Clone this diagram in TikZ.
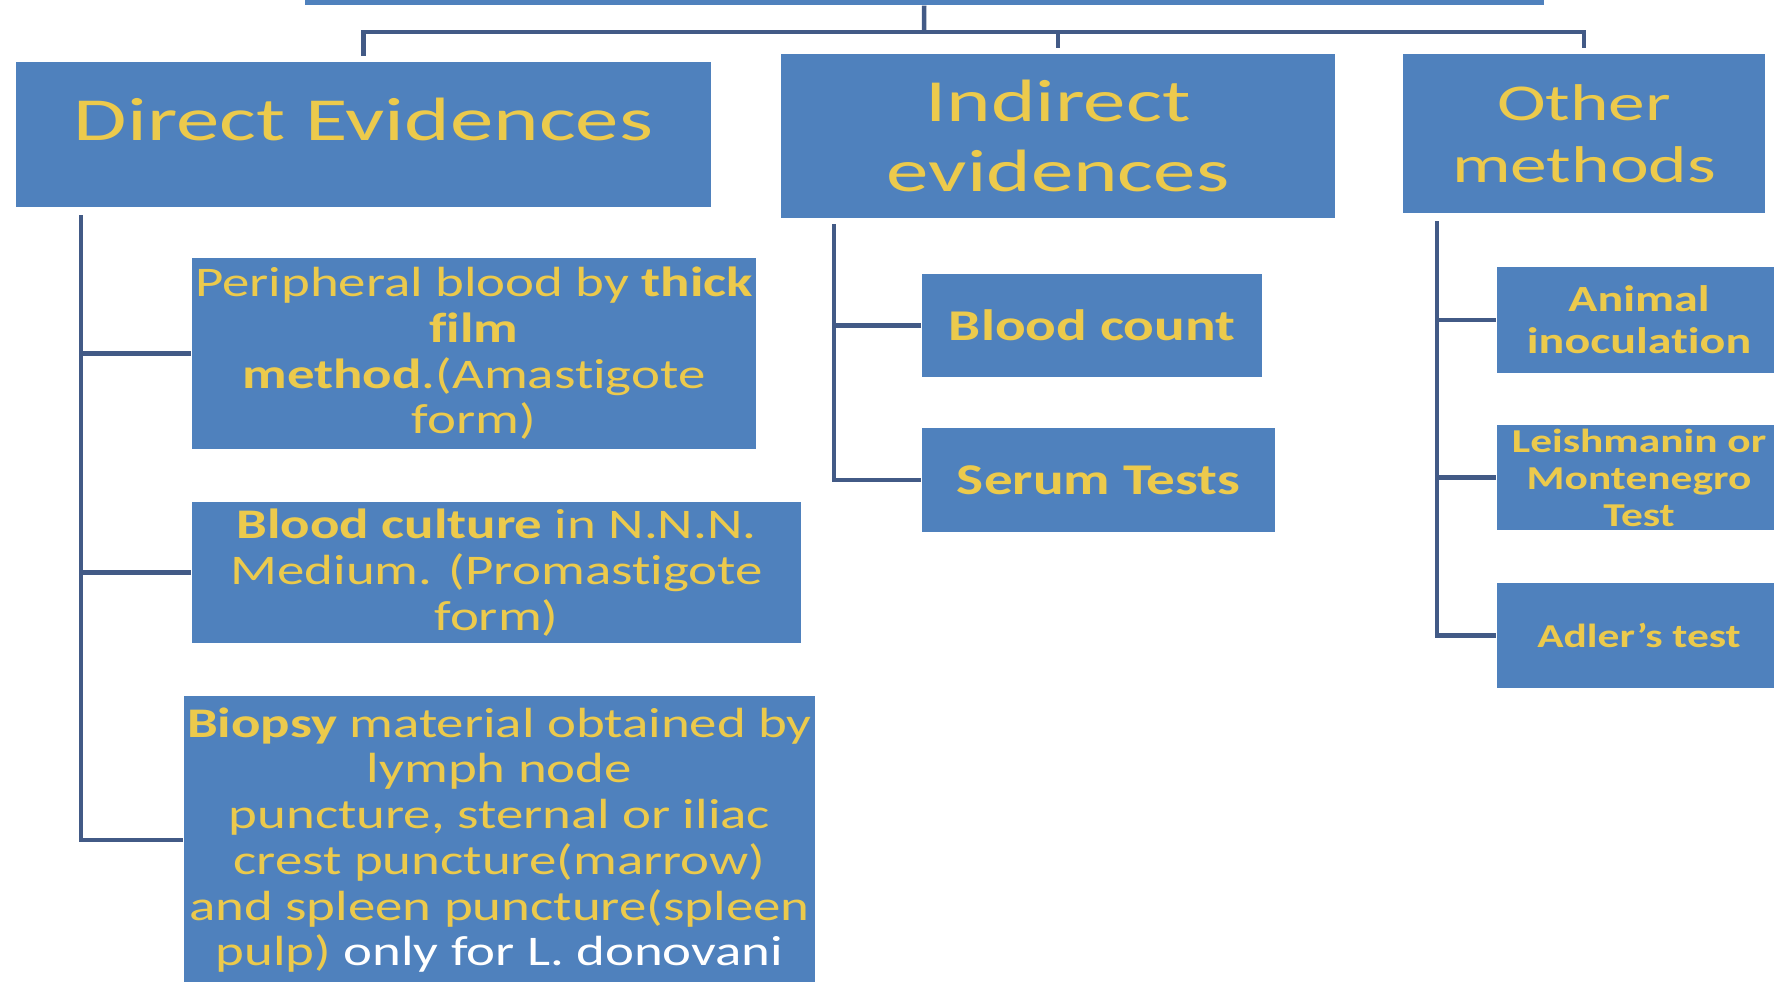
\documentclass[tikz,border=0pt]{standalone}
\usepackage{fontspec}
\setmainfont[FakeStretch=1.3, Ligatures=TeX, RawFeature={-liga;-calt;-dlig}]{Carlito}
\newfontfamily\headfont[FakeStretch=1.42, Ligatures=TeX, RawFeature={-liga;-calt;-dlig}]{Carlito}
\definecolor{boxBlue}{RGB}{79,129,189}
\definecolor{textGold}{RGB}{236,202,76}
\definecolor{lineBlue}{RGB}{66,90,134}
\tikzstyle{boxMain} = [rectangle, fill=boxBlue, text=textGold, align=center, inner sep=0pt]
\tikzstyle{boxHead} = [boxMain, font=\headfont\fontsize{17.4}{20.5}\selectfont]
\tikzstyle{boxItem} = [boxMain, font=\fontsize{12}{13}\selectfont]
\tikzstyle{boxSmall} = [boxMain, font=\fontsize{9.5}{10.5}\selectfont\bfseries, minimum width=2.84cm, minimum height=1.05cm]
\tikzstyle{link} = [line width=1.3pt, draw=lineBlue]

\begin{document}
\begin{tikzpicture}[x=0.01cm, y=-0.01cm]
\useasboundingbox (0,0) rectangle (1774,981);
\clip (0,0) rectangle (1774,981);

\node (top) [boxMain, minimum width=12.39cm, minimum height=0.8cm] at (924.5,-35) {};

\node (direct) [boxHead, text depth=0.3cm, minimum width=6.95cm, minimum height=1.45cm] at (363.5,134.5) {Direct Evidences};
\node (indirect) [boxHead, font=\headfont\fontsize{17}{20}\selectfont, minimum width=5.54cm, minimum height=1.64cm] at (1058,136) {Indirect\\evidences};
\node (other) [boxHead, font=\headfont\fontsize{14.7}{17.5}\selectfont, minimum width=3.62cm, minimum height=1.59cm] at (1584,133.5) {Other\\methods};

% direct evidences
\node (thick) [boxItem, minimum width=5.64cm, minimum height=1.91cm] at (474,353.5) {Peripheral blood by \textbf{thick}\\\textbf{film}\\\textbf{method}.(Amastigote\\form)};
\node (culture) [boxItem, minimum width=6.09cm, minimum height=1.41cm] at (496.5,572.5) {\textbf{Blood culture} in N.N.N.\\Medium. (Promastigote\\form)};
\node (biopsy) [boxItem, minimum width=6.31cm, minimum height=2.88cm] at (499.5,840) {\textbf{Biopsy} material obtained by\\lymph node\\puncture, sternal or iliac\\crest puncture(marrow)\\and spleen puncture(spleen\\pulp) \textcolor{white}{only for L. donovani}};

% indirect evidences
\node (count) [boxItem, font=\fontsize{12.5}{13.5}\selectfont\bfseries, minimum width=3.40cm, minimum height=1.03cm] at (1092,325.5) {Blood count};
\node (serum) [boxItem, font=\fontsize{12.5}{13.5}\selectfont\bfseries, minimum width=3.53cm, minimum height=1.04cm] at (1098.5,480) {Serum Tests};

% other methods
\node (animal) [boxSmall, font=\fontsize{10.5}{12}\selectfont\bfseries, minimum height=1.06cm] at (1639,320) {Animal\\inoculation};
\node (leish) [boxSmall] at (1639,477.5) {Leishmanin or\\Montenegro\\Test};
\node (adler) [boxSmall] at (1639,635.5) {Adler's test};

\coordinate (hub) at (924,32);
\coordinate (directStem) at (81,215);
\coordinate (indirectStem) at (834,224);
\coordinate (otherStem) at (1437,221);

\draw[link] (top) -- (hub);
\draw[link, shorten >=0.05cm] (hub) -| (direct);
\draw[link, shorten >=0.05cm] (hub) -| (indirect);
\draw[link, shorten >=0.05cm] (hub) -| (other);

\draw[link] (directStem) |- (thick);
\draw[link] (directStem) |- (culture);
\draw[link] (directStem) |- (biopsy);

\draw[link] (indirectStem) |- (count);
\draw[link] (indirectStem) |- (serum);

\draw[link] (otherStem) |- (animal);
\draw[link] (otherStem) |- (leish);
\draw[link] (otherStem) |- (adler);

\end{tikzpicture}
\end{document}
